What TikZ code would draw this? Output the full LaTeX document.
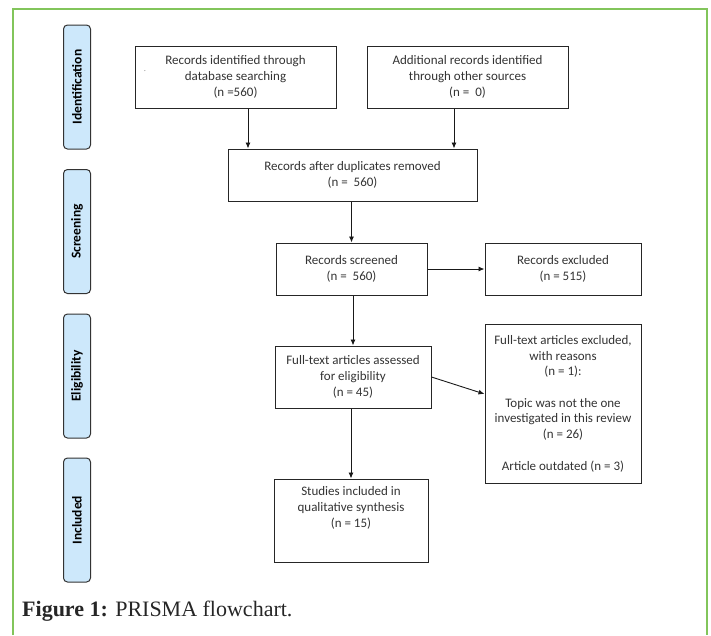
\documentclass[tikz,border=0pt]{standalone}
\usepackage{fontspec}
\setmainfont{Liberation Serif}
\newfontfamily\boxfamily{Carlito}
\usetikzlibrary{positioning, arrows.meta}

\definecolor{framegreen}{HTML}{82C55B}
\definecolor{phaseblue}{HTML}{CDE8FB}
\definecolor{boxtext}{HTML}{333333}

\tikzset{
  box/.style={draw=black!85, line width=1pt, align=center, text=boxtext,
    font=\boxfamily\fontsize{13}{15.8}\selectfont, inner sep=2pt},
  txt/.style={align=center, text=boxtext,
    font=\boxfamily\fontsize{13}{15.8}\selectfont, inner sep=2pt},
  phase/.style={draw=black!80, line width=1pt, rounded corners=4pt, fill=phaseblue,
    minimum width=124pt, minimum height=27pt, rotate=90, inner sep=0pt,
    font=\boxfamily\bfseries\fontsize{13.5}{15}\selectfont},
  arr/.style={-{Latex[length=6pt,width=5pt]}, line width=0.9pt, draw=black!90},
}

\begin{document}
\begin{tikzpicture}[x=1pt,y=-1pt]
	\useasboundingbox (0,0) rectangle (711,635);
	
	% frame round the figure
	\draw[framegreen, line width=1.2pt] (13,635) -- (13,9) -- (707,9) -- (707,635);
	
	% phases down the left side
	\node[phase]  (ident)  at (77,87) {Identification};
	\node[phase, on grid, below=144.5pt of ident]  (screen) {Screening};
	\node[phase, on grid, below=144.5pt of screen] (elig)   {Eligibility};
	\node[phase, on grid, below=144pt of elig]     (incl)   {Included};
	
	\node[box, minimum width=201pt, minimum height=62pt] (recDb) at (235.5,77)
		{Records identified through\\database searching\\(n =560)};
	\node[box, minimum width=201pt, minimum height=62pt, on grid, right=232pt of recDb] (recOther)
		{Additional records identified\\through other sources\\(n =\ \ 0)};
	\node[txt, font=\fontsize{7}{7}\selectfont] (dot) at (145,71) {.};
	
	\node[box, minimum width=249pt, minimum height=52pt] (recDedup) at (352.5,175)
		{Records after duplicates removed\\(n =\ \ 560)};
	
	\node[box, minimum width=151pt, minimum height=52pt] (recScreen) at (351.5,269)
		{Records screened\\(n =\ \ 560)};
	\node[box, minimum width=156pt, minimum height=52pt, on grid, right=211.5pt of recScreen] (recExcl)
		{Records excluded\\(n = 515)};
	
	\node[box, minimum width=156pt, minimum height=62pt] (fullText) at (353,377)
		{Full-text articles assessed\\for eligibility\\(n = 45)};
	\node[box, minimum width=156pt, minimum height=159pt] (fullExcl) at (563,403.5)
		{Full-text articles excluded,\\with reasons\\(n = 1):\\[15.5pt]Topic was not the one\\investigated in this review\\(n = 26)\\[15.5pt]Article outdated (n = 3)};
	
	\node[box, minimum width=154pt, minimum height=83pt] (studies) at (351,520.5) {};
	\node[txt, below=6pt of studies.north] (studiesText)
		{Studies included in\\qualitative synthesis\\(n = 15)};
	
	\draw[arr] ([xshift=12.5pt]recDb.south) -- ([xshift=12.5pt]recDb.south |- recDedup.north);
	\draw[arr] ([xshift=-13.5pt]recOther.south) -- ([xshift=-13.5pt]recOther.south |- recDedup.north);
	\draw[arr] (recDedup.south -| recScreen) -- (recScreen.north);
	\draw[arr] (recScreen.east) -- (recExcl.west);
	\draw[arr] (recScreen.south -| fullText) -- (fullText.north);
	\draw[arr] (fullText.east) -- ([yshift=9.5pt]fullExcl.west);
	\draw[arr] (fullText.south -| studies) -- (studies.north);
	
	\node[anchor=west, inner sep=0pt, text=black!85, font=\fontsize{22}{26}\selectfont] (caption) at (22,611)
		{\textbf{Figure 1:} PRISMA flowchart.};
\end{tikzpicture}
\end{document}
